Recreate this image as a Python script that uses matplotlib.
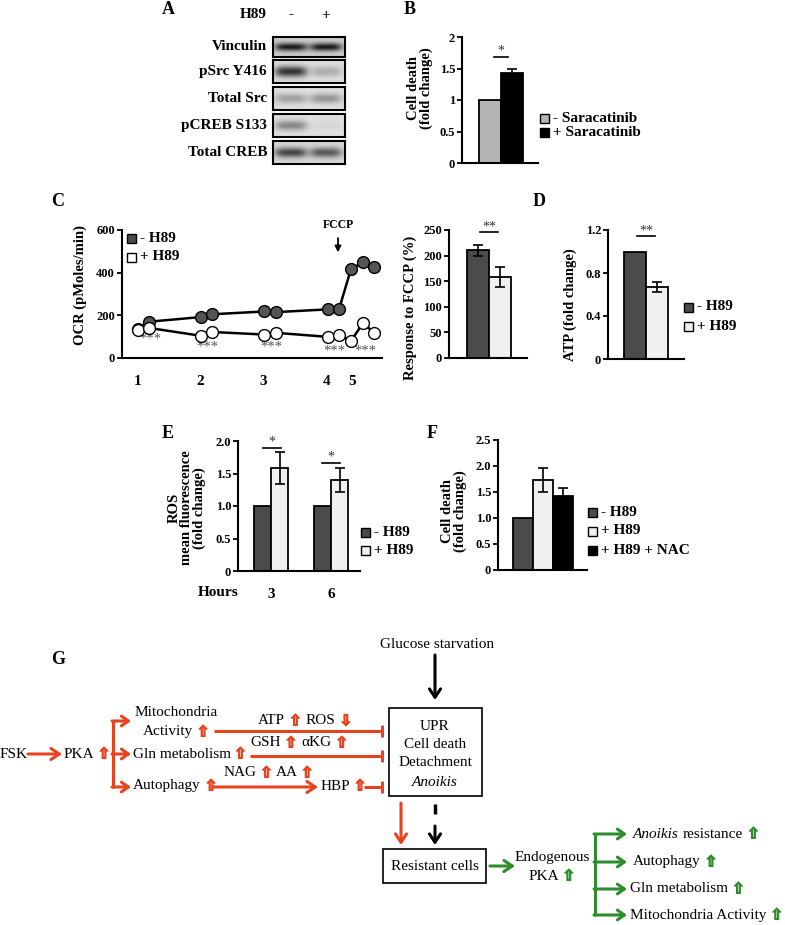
import numpy as np
import matplotlib
matplotlib.use("Agg")
import matplotlib.pyplot as plt
from matplotlib.patches import Rectangle
import matplotlib.patheffects as pe

# ---------------- DATA ----------------
# A: western blot (band darkness, 0 = none, 1 = black)
blot_rows = ["Vinculin", "pSrc Y416", "Total Src", "pCREB S133", "Total CREB"]
blot_lanes = ["-", "+"]
band_minus = [0.70, 0.68, 0.25, 0.35, 0.58]
band_plus = [0.70, 0.20, 0.30, 0.04, 0.50]
blot_bg = [0.80, 0.88, 0.88, 0.88, 0.85]

# B
b_labels = ["- Saracatinib", "+ Saracatinib"]
b_vals = [1.0, 1.43]
b_errs = [0.0, 0.06]

# C: OCR time course
c_time = [16, 27, 79, 90, 142, 154, 206, 217, 229, 241, 252]
c_minus = [135, 170, 192, 205, 218, 215, 228, 228, 417, 448, 425]
c_plus = [133, 141, 104, 122, 110, 118, 99, 107, 80, 164, 118]
c_ticks = [16, 78, 141, 205, 230]
c_ticklabels = ["1", "2", "3", "4", "5"]
c_star_x = [28, 85, 149, 212, 243]
c_star_y = [88, 51, 51, 33, 33]
fccp_x = 216
c_labels = ["- H89", "+ H89"]

# D
fccp_vals = [210, 158]
fccp_errs = [11, 19]
atp_vals = [1.0, 0.67]
atp_errs = [0.0, 0.05]
d_labels = ["- H89", "+ H89"]

# E
e_hours = ["3", "6"]
e_minus = [1.0, 1.0]
e_plus = [1.58, 1.40]
e_plus_err = [0.245, 0.19]
e_labels = ["- H89", "+ H89"]

# F
f_labels = ["- H89", "+ H89", "+ H89 + NAC"]
f_vals = [1.0, 1.73, 1.43]
f_errs = [0.0, 0.23, 0.15]

# ---------------- STYLE ----------------
W, H = 785, 925
SERIF = ['Liberation Serif', 'DejaVu Serif']
ARW = ['DejaVu Sans']
RED = '#e8431f'
GREEN = '#2f8c2c'
DARK = '#4b4b4b'
LIGHT = '#f0f0f0'
GRAYB = '#b5b5b5'
plt.rcParams['font.family'] = SERIF

fig = plt.figure(figsize=(W / 100, H / 100), dpi=100)
ov = fig.add_axes([0, 0, 1, 1], zorder=10)
ov.set_xlim(0, W)
ov.set_ylim(H, 0)
ov.axis('off')
renderer = fig.canvas.get_renderer()


def px_axes(x0, ytop, x1, ybot):
    ax = fig.add_axes([x0 / W, 1 - ybot / H, (x1 - x0) / W, (ybot - ytop) / H])
    ax.set_facecolor('none')
    return ax


def prism(ax, ymax, yticks, ylabels):
    ax.set_ylim(0, ymax)
    for s in ['top', 'right']:
        ax.spines[s].set_visible(False)
    for s in ['left', 'bottom']:
        ax.spines[s].set_linewidth(1.5)
    ax.tick_params(axis='y', direction='out', length=3.5, width=1.3, pad=1.5, labelsize=9)
    ax.tick_params(axis='x', length=0)
    ax.set_yticks(yticks)
    ax.set_yticklabels(ylabels, fontweight='bold')


def bars(ax, vals, errs, colors, ax_x0, ax_x1, first_left, bw):
    n = len(vals)
    x = np.arange(n)
    ax.bar(x, vals, width=1.0, color=colors, edgecolor='k', linewidth=1.3, zorder=2)
    for xi, v, e in zip(x, vals, errs):
        if e > 0:
            ax.errorbar(xi, v, yerr=e, color='k', elinewidth=1.2, capsize=3.5, capthick=1.2, zorder=3)
    lo = -0.5 - first_left / bw
    ax.set_xlim(lo, lo + (ax_x1 - ax_x0) / bw)
    ax.set_xticks([])


def sig(ax, xc, half, y, ystar, s, fs=10):
    ax.plot([xc - half, xc + half], [y, y], color='k', lw=1.2, clip_on=False)
    ax.text(xc, ystar, s, ha='center', va='center', fontsize=fs, color='#333333', clip_on=False)


def legend(x, ys, labels, colors, fs=11):
    for y, lab, col in zip(ys, labels, colors):
        ov.add_patch(Rectangle((x, y - 4.5), 9, 9, facecolor=col, edgecolor='k', lw=1.0))
        ov.text(x + 13, y, lab, fontsize=fs, fontweight='bold', va='center', ha='left')


def ylab(x, y, s, fs=10.5):
    ov.text(x, y, s, rotation=90, ha='center', va='center', fontsize=fs,
            fontweight='bold', multialignment='center', linespacing=0.95)


def letter(x, y, s):
    ov.text(x, y, s, fontsize=13, fontweight='bold', ha='center', va='center')


def rich(x, y, pieces, size=11, ha='left', gap=4):
    texts = []
    cx = x
    for s, col, fam, sty in pieces:
        t = ov.text(cx, y, s, color=col, family=fam, style=sty, fontsize=size,
                    ha='left', va='center')
        if fam == ARW:
            t.set_path_effects([pe.Stroke(linewidth=0.8, foreground=col), pe.Normal()])
            t.set_fontweight('bold')
        bb = t.get_window_extent(renderer)
        cx += bb.width + gap
        texts.append(t)
    total = cx - gap - x
    if ha == 'center':
        for t in texts:
            px, py = t.get_position()
            t.set_position((px - total / 2, py))
    return texts


def K(s, sty='normal'):
    return (s, 'k', SERIF, sty)


def UP(col):
    return ('\u21e7', col, ARW, 'normal')


def DN(col):
    return ('\u21e9', col, ARW, 'normal')


def arrow(x0, y0, x1, y1, col, lw=2.2, hl=0.6, hw=0.4):
    ov.annotate('', xy=(x1, y1), xytext=(x0, y0),
                arrowprops=dict(arrowstyle='->,head_length=%g,head_width=%g' % (hl, hw),
                                color=col, lw=lw, shrinkA=0, shrinkB=0))


def inhib(x0, x1, y, col=RED, lw=2.2):
    ov.plot([x0, x1], [y, y], color=col, lw=lw, solid_capstyle='butt')
    ov.plot([x1, x1], [y - 6, y + 6], color=col, lw=lw, solid_capstyle='butt')


# ---------------- A ----------------
letter(168, 9, 'A')
ov.text(267, 15, 'H89', fontsize=11, fontweight='bold', ha='right', va='center')
lane_centers = [291, 326]
for lab, lx in zip(blot_lanes, lane_centers):
    ov.text(lx, 15, lab, fontsize=11, fontweight='bold', ha='center', va='center')
strip_rows = [(37, 57), (60, 83), (87, 110), (114, 137), (141, 164)]
band_h = [4.0, 5.5, 5.0, 5.0, 5.0]
for i, name in enumerate(blot_rows):
    y0, y1 = strip_rows[i]
    ax = px_axes(273, y0, 345, y1)
    nx, ny = 144, (y1 - y0) * 2
    xs = 273 + (np.arange(nx) + 0.5) / 2
    ys = (np.arange(ny) + 0.5) / 2
    img = np.full((ny, nx), blot_bg[i])
    for lx, inten in zip(lane_centers, [band_minus[i], band_plus[i]]):
        px_ = np.exp(-np.abs((xs - lx) / 16.0) ** 4)
        py_ = np.exp(-((ys - (y1 - y0) / 2) / band_h[i]) ** 2)
        img -= inten * np.outer(py_, px_)
    ax.imshow(img, cmap='gray', vmin=0, vmax=1, aspect='auto', interpolation='bilinear')
    ax.set_xticks([])
    ax.set_yticks([])
    for s in ax.spines.values():
        s.set_linewidth(1.5)
    ov.text(267, (y0 + y1) / 2, name, fontsize=11, fontweight='bold', ha='right', va='center')

# ---------------- B ----------------
letter(410, 9, 'B')
axB = px_axes(462, 37, 538, 163)
prism(axB, 2, [0, 0.5, 1, 1.5, 2], ['0', '0.5', '1', '1.5', '2'])
bars(axB, b_vals, b_errs, [GRAYB, 'black'], 462, 538, 17, 22)
sig(axB, 0.5, 0.34, 1.68, 1.78, '*')
ylab(420, 88, 'Cell death\n(fold change)')
legend(540, [118, 132], b_labels, [GRAYB, 'black'])

# ---------------- C ----------------
letter(58, 202, 'C')
axC = px_axes(122, 230, 382, 358)
prism(axC, 600, [0, 200, 400, 600], ['0', '200', '400', '600'])
axC.set_xlim(0, 260)
axC.plot(c_time, c_minus, '-o', color='k', mfc='#555555', mec='k', ms=8.5, mew=1.0,
         lw=1.8, zorder=3, clip_on=False)
axC.plot(c_time, c_plus, '-o', color='k', mfc='white', mec='k', ms=8.5, mew=1.0,
         lw=1.8, zorder=4, clip_on=False)
axC.set_xticks(c_ticks)
axC.set_xticklabels(c_ticklabels, fontsize=11, fontweight='bold')
axC.tick_params(axis='x', pad=12)
for sx, sy in zip(c_star_x, c_star_y):
    axC.text(sx, sy, '***', ha='center', va='center', fontsize=10.5, color='#555555')
axC.annotate('FCCP', xy=(fccp_x, 495), xytext=(fccp_x, 623), ha='center', va='center',
             fontsize=8.5, fontweight='bold', annotation_clip=False,
             arrowprops=dict(arrowstyle='-|>', color='k', lw=1.3, mutation_scale=9,
                             shrinkA=3, shrinkB=0))
ylab(80, 285, 'OCR (pMoles/min)')
legend(127, [238, 257], c_labels, [DARK, 'white'])

# ---------------- D ----------------
letter(539, 202, 'D')
axF1 = px_axes(449, 230, 527, 358)
prism(axF1, 250, [0, 50, 100, 150, 200, 250], ['0', '50', '100', '150', '200', '250'])
bars(axF1, fccp_vals, fccp_errs, [DARK, LIGHT], 449, 527, 18, 22)
sig(axF1, 0.5, 0.39, 246, 256, '**')
ylab(410, 308, 'Response to FCCP (%)')

axA = px_axes(608, 230, 684, 359)
prism(axA, 1.2, [0, 0.4, 0.8, 1.2], ['0', '0.4', '0.8', '1.2'])
bars(axA, atp_vals, atp_errs, [DARK, LIGHT], 608, 684, 16, 22)
sig(axA, 0.5, 0.41, 1.14, 1.19, '**')
ylab(570, 305, 'ATP (fold change)')
legend(684, [307, 326], d_labels, [DARK, LIGHT])

# ---------------- E ----------------
letter(168, 433, 'E')
axE = px_axes(238, 441, 360, 571)
prism(axE, 2, [0, 0.5, 1.0, 1.5, 2.0], ['0', '0.5', '1.0', '1.5', '2.0'])
g = np.arange(len(e_hours))
bwE = 17 / 60
axE.bar(g - bwE / 2, e_minus, width=bwE, color=DARK, edgecolor='k', lw=1.3, zorder=2)
axE.bar(g + bwE / 2, e_plus, width=bwE, color=LIGHT, edgecolor='k', lw=1.3, zorder=2)
axE.errorbar(g + bwE / 2, e_plus, yerr=e_plus_err, fmt='none', ecolor='k', elinewidth=1.2,
             capsize=3.5, capthick=1.2, zorder=3)
axE.set_xlim(-0.55, -0.55 + 122 / 60)
axE.set_xticks(g)
axE.set_xticklabels(e_hours, fontsize=11, fontweight='bold')
axE.tick_params(axis='x', pad=12)
sig(axE, 0.02, 0.15, 1.89, 1.98, '*')
sig(axE, 1.0, 0.15, 1.66, 1.76, '*')
ov.text(218, 592, 'Hours', fontsize=11, fontweight='bold', ha='center', va='center')
ylab(187, 508, 'ROS\nmean fluorescence\n(fold change)')
legend(361, [532, 550], e_labels, [DARK, LIGHT])

# ---------------- F ----------------
letter(432, 433, 'F')
axFF = px_axes(498, 440, 587, 570)
prism(axFF, 2.5, [0, 0.5, 1.0, 1.5, 2.0, 2.5], ['0', '0.5', '1.0', '1.5', '2.0', '2.5'])
bars(axFF, f_vals, f_errs, [DARK, LIGHT, 'black'], 498, 587, 15, 20)
ylab(454, 511, 'Cell death\n(fold change)')
legend(588, [512, 531, 550], f_labels, [DARK, LIGHT, 'black'])

# ---------------- G: scheme ----------------
letter(58, 660, 'G')
FS = 11
ov.text(437, 644, 'Glucose starvation', fontsize=FS, ha='center', va='center')
arrow(435, 655, 435, 700, 'k')
ov.add_patch(Rectangle((389, 708), 92.5, 88, facecolor='none', edgecolor='k', lw=1.2))
for txt, yy, st in [('UPR', 726, 'normal'), ('Cell death', 744, 'normal'),
                    ('Detachment', 763, 'normal'), ('Anoikis', 782, 'italic')]:
    ov.text(435, yy, txt, fontsize=FS, ha='center', va='center', style=st)

# left red pathway
ov.text(0, 754, 'FSK', fontsize=FS, ha='left', va='center')
arrow(28, 754, 62, 754, RED)
rich(64, 754, [K('PKA'), UP(RED)], FS, gap=3)
ov.plot([113, 113], [720, 788], color=RED, lw=2.2, solid_capstyle='butt')
for yy in [721, 754, 787]:
    arrow(112, yy, 131, yy, RED, hl=0.5, hw=0.35)
ov.text(176, 713, 'Mitochondria', fontsize=FS, ha='center', va='center')
rich(176, 732, [K('Activity'), UP(RED)], FS, ha='center')
inhib(214, 382, 731)
rich(258, 721, [K('ATP'), UP(RED), K('ROS'), DN(RED)], FS)
rich(133, 754, [K('Gln metabolism'), UP(RED)], FS, gap=3)
rich(250, 743, [K('GSH'), UP(RED), K('\u03b1KG'), UP(RED)], FS)
inhib(250, 382, 756)
rich(133, 786, [K('Autophagy'), UP(RED)], FS)
rich(224, 773, [K('NAG'), UP(RED), K('AA'), UP(RED)], FS, gap=3)
arrow(213, 787, 318, 787, RED)
rich(321, 786, [K('HBP'), UP(RED)], FS, gap=3)
inhib(364, 382, 787)

# lower part
arrow(401, 803, 401, 845, RED)
ov.plot([435, 435], [804, 814], color='k', lw=2.5, solid_capstyle='butt')
arrow(435, 826, 435, 845, 'k')
ov.add_patch(Rectangle((383, 849), 103, 34, facecolor='none', edgecolor='k', lw=1.2))
ov.text(434.5, 866, 'Resistant cells', fontsize=FS, ha='center', va='center')
arrow(490, 866, 515, 866, GREEN)
ov.text(552, 857, 'Endogenous', fontsize=FS, ha='center', va='center')
rich(552, 876, [K('PKA'), UP(GREEN)], FS, ha='center', gap=3)
ov.plot([595, 595], [833, 916], color=GREEN, lw=2.2, solid_capstyle='butt')
for yy in [834, 862, 889, 915]:
    arrow(594, yy, 627, yy, GREEN, hl=0.5, hw=0.35)
rich(633, 834, [K('Anoikis', 'italic'), K('resistance'), UP(GREEN)], FS)
rich(633, 862, [K('Autophagy'), UP(GREEN)], FS)
rich(630, 889, [K('Gln metabolism'), UP(GREEN)], FS)
rich(630, 915, [K('Mitochondria Activity'), UP(GREEN)], FS)

fig.savefig('out.png', dpi=100)
